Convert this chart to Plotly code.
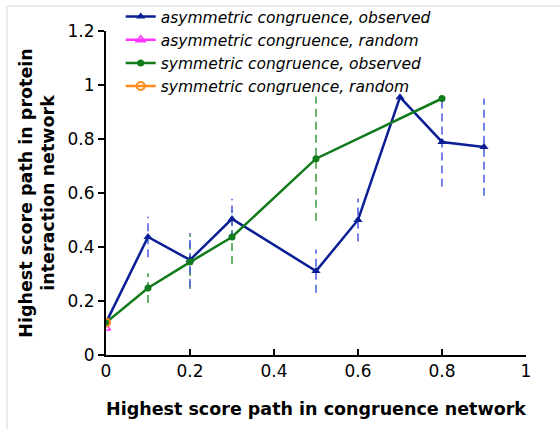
import plotly.graph_objects as go

x_asym = [0, 0.1, 0.2, 0.3, 0.5, 0.6, 0.7, 0.8, 0.9]
y_asym = [0.12, 0.437, 0.352, 0.504, 0.311, 0.50, 0.955, 0.789, 0.770]
e_asym = [0.0, 0.075, 0.10, 0.075, 0.08, 0.08, 0.0, 0.165, 0.18]

x_sym = [0, 0.1, 0.2, 0.3, 0.5, 0.8]
y_sym = [0.12, 0.248, 0.344, 0.437, 0.727, 0.950]
e_sym = [0.0, 0.055, 0.10, 0.10, 0.23, 0.0]

x_asym_rand = [0]
y_asym_rand = [0.10]
x_sym_rand = [0]
y_sym_rand = [0.12]

BLUE = "#0a1e96"
GREEN = "#117a1a"
MAG = "#ff33ff"
ORANGE = "#ff8c1a"
FONT = "DejaVu Sans"

W, H = 560, 429
ML, MR, MT, MB = 106, 34, 31, 74
PW, PH = W - ML - MR, H - MT - MB


def err_segments(xs, ys, es):
    ex, ey = [], []
    for xv, yv, ev in zip(xs, ys, es):
        if ev > 0:
            ex += [xv, xv, None]
            ey += [yv - ev, yv + ev, None]
    return ex, ey


fig = go.Figure()

ex, ey = err_segments(x_sym, y_sym, e_sym)
fig.add_trace(go.Scatter(x=ex, y=ey, mode="lines", showlegend=False,
                         line=dict(color="#3a9a3a", width=1.5, dash="8px,5px"), hoverinfo="skip"))
ex, ey = err_segments(x_asym, y_asym, e_asym)
fig.add_trace(go.Scatter(x=ex, y=ey, mode="lines", showlegend=False,
                         line=dict(color="#4a5ae6", width=1.5, dash="8px,5px"), hoverinfo="skip"))

fig.add_trace(go.Scatter(x=x_asym, y=y_asym, mode="lines+markers",
                         name="asymmetric congruence, observed",
                         line=dict(color=BLUE, width=2.5),
                         marker=dict(symbol="triangle-up", size=8, color=BLUE)))
fig.add_trace(go.Scatter(x=x_asym_rand, y=y_asym_rand, mode="lines+markers",
                         name="asymmetric congruence, random",
                         line=dict(color=MAG, width=2.5),
                         marker=dict(symbol="triangle-up-open", size=8, color=MAG, line=dict(width=1.5))))
fig.add_trace(go.Scatter(x=x_sym, y=y_sym, mode="lines+markers",
                         name="symmetric congruence, observed",
                         line=dict(color=GREEN, width=2.5),
                         marker=dict(symbol="circle", size=7, color=GREEN)))
fig.add_trace(go.Scatter(x=x_sym_rand, y=y_sym_rand, mode="lines+markers",
                         name="symmetric congruence, random",
                         line=dict(color=ORANGE, width=2.5),
                         marker=dict(symbol="circle-open", size=8, color=ORANGE, line=dict(width=2))))

# faint frame lines at top and left of the image
px = lambda v: (v - ML) / PW
py = lambda v: (H - MB - v) / PH
fig.add_shape(type="line", xref="paper", yref="paper", x0=px(7), x1=px(W), y0=py(6), y1=py(6),
              line=dict(color="#e4e4e4", width=1.5), layer="below")
fig.add_shape(type="line", xref="paper", yref="paper", x0=px(7), x1=px(7), y0=py(6), y1=py(H),
              line=dict(color="#e4e4e4", width=1.5), layer="below")

fig.update_layout(
    width=W, height=H,
    margin=dict(l=ML, r=MR, t=MT, b=MB, autoexpand=False),
    plot_bgcolor="white", paper_bgcolor="white",
    font=dict(family=FONT, size=17, color="black"),
    showlegend=True,
    legend=dict(x=0.035, y=1.0, xanchor="left", yanchor="top", yref="container",
                bgcolor="rgba(0,0,0,0)", font=dict(size=15.5, family=FONT, style="italic"),
                tracegroupgap=0, itemwidth=30),
    xaxis=dict(range=[0, 1], tickvals=[0, 0.2, 0.4, 0.6, 0.8, 1],
               ticktext=["0", "0.2", "0.4", "0.6", "0.8", "1"],
               showgrid=False, zeroline=False, showline=True, linecolor="black", linewidth=2,
               ticks="inside", ticklen=6, tickwidth=2, tickcolor="black",
               title=dict(text="<b>Highest score path in congruence network</b>", font=dict(size=17.5), standoff=22),
               tickfont=dict(size=17)),
    yaxis=dict(range=[0, 1.2], tickvals=[0, 0.2, 0.4, 0.6, 0.8, 1, 1.2],
               ticktext=["0", "0.2", "0.4", "0.6", "0.8", "1", "1.2"],
               showgrid=False, zeroline=False, showline=True, linecolor="black", linewidth=2,
               ticks="outside", ticklen=6, tickwidth=2, tickcolor="black",
               title=dict(text="<b>Highest score path in protein<br>interaction network</b>", font=dict(size=17.5), standoff=8),
               tickfont=dict(size=17)),
)

fig.write_html("out.html")
